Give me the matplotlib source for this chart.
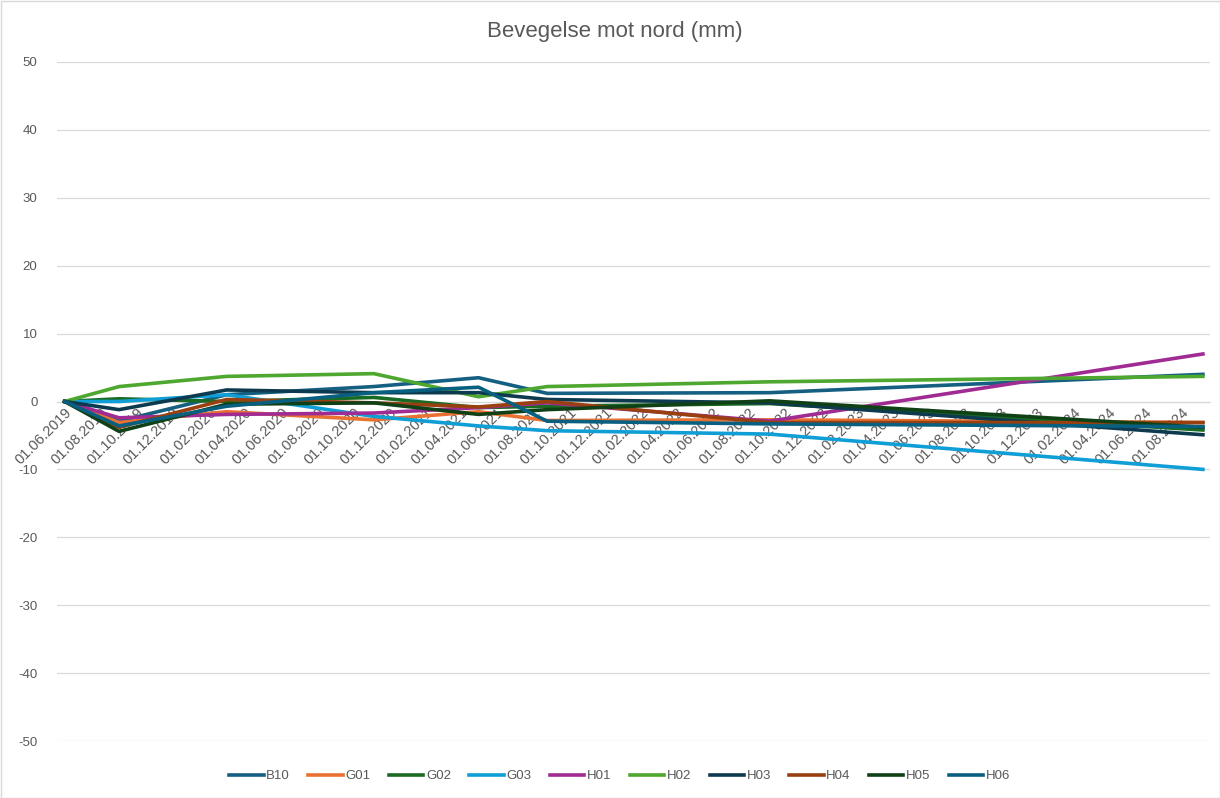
import numpy as np
import pandas as pd
import matplotlib
matplotlib.use("Agg")
import matplotlib.pyplot as plt
import matplotlib.dates as mdates
from matplotlib.patches import Rectangle

# measurement dates (shared by all points)
dates = pd.to_datetime(['2019-06-01', '2019-09-01', '2020-03-01', '2020-11-05',
                        '2021-05-01', '2021-08-25', '2022-09-05', '2024-09-07'])

names = ['B10', 'G01', 'G02', 'G03', 'H01', 'H02', 'H03', 'H04', 'H05', 'H06']

B10 = [0, -2.9, 1.0, 2.2, 3.5, 1.2, 1.3, 4.0]
G01 = [0, -3.1, -1.5, -2.7, -1.5, -2.8, -2.7, -3.1]
G02 = [0, 0.4, 0.0, 0.6, -0.9, -0.7, -0.3, -4.2]
G03 = [0, 0.0, 1.0, -2.2, -3.6, -4.3, -4.8, -10.0]
H01 = [0, -2.4, -1.9, -1.7, -0.9, -0.2, -2.9, 7.0]
H02 = [0, 2.2, 3.7, 4.1, 0.7, 2.2, 2.9, 3.7]
H03 = [0, -1.2, 1.7, 1.3, 1.3, 0.3, -0.2, -4.9]
H04 = [0, -3.8, 0.3, -0.2, -0.8, 0.0, -3.1, -3.1]
H05 = [0, -4.4, -0.4, -0.2, -1.9, -1.2, 0.1, -3.8]
H06 = [0, -3.6, -0.7, 1.3, 2.1, -2.9, -3.3, -3.7]

series = [B10, G01, G02, G03, H01, H02, H03, H04, H05, H06]
colors = ['#156082', '#E97132', '#196B24', '#0F9ED5', '#A02B93',
          '#4EA72E', '#0D3A4E', '#994011', '#0F4016', '#095F80']

tick_dates = pd.date_range('2019-06-01', '2024-08-01', freq='2MS')

plt.rcParams['font.family'] = ['Liberation Sans', 'DejaVu Sans']
plt.rcParams['axes.unicode_minus'] = False
txt = '#595959'

fig = plt.figure(figsize=(12.2, 7.98), dpi=100)
ax = fig.add_axes([57 / 1220, 1 - 741 / 798, (1210 - 57) / 1220, (741 - 62) / 798])

for name, vals, c in zip(names, series, colors):
    ax.plot(dates, vals, color=c, lw=2.6, label=name, solid_joinstyle='round')

ax.set_ylim(-50, 50)
ax.set_yticks(np.arange(-50, 51, 10))
x0 = mdates.date2num(dates[0]) - 13
x1 = mdates.date2num(dates[-1]) + 12
ax.set_xlim(x0, x1)

ax.yaxis.grid(True, color='#D9D9D9', lw=0.9)
ax.set_axisbelow(True)
for s in ['top', 'right', 'left']:
    ax.spines[s].set_visible(False)
ax.spines['bottom'].set_position(('data', 0))
ax.spines['bottom'].set_color('#D9D9D9')
ax.spines['bottom'].set_zorder(0)

ax.set_xticks(mdates.date2num(tick_dates))
ax.set_xticklabels([d.strftime('%d.%m.%Y') for d in tick_dates],
                   rotation=45, ha='right', rotation_mode='anchor')
ax.tick_params(axis='x', length=0, pad=3, labelsize=10.5, labelcolor=txt)
ax.tick_params(axis='y', length=0, pad=14, labelsize=9.5, labelcolor=txt)

fig.suptitle('Bevegelse mot nord (mm)', x=0.5 + 5 / 1220, y=1 - 32 / 798,
             va='center', fontsize=16, color=txt)

fig.legend(loc='center', bbox_to_anchor=(0.508, 1 - 776 / 798), ncol=10,
           frameon=False, fontsize=9.5, handlelength=2.6, handletextpad=0.2,
           columnspacing=1.4, labelcolor=txt)

fig.patches.append(Rectangle((0.5 / 1220, 0.5 / 798), 1 - 1 / 1220, 1 - 1 / 798,
                             transform=fig.transFigure, fill=False,
                             edgecolor='#D9D9D9', lw=1))

fig.savefig('out.png', dpi=100)
